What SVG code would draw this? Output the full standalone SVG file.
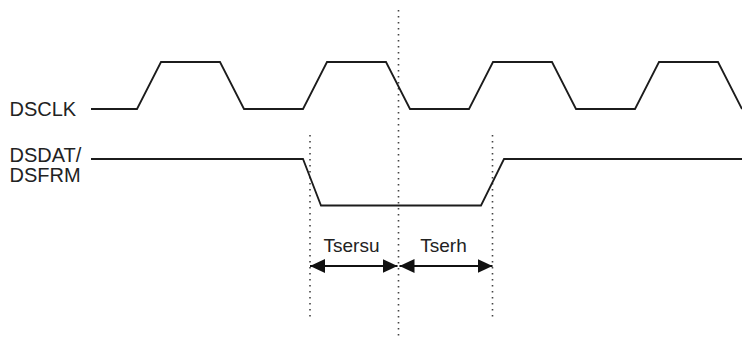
<svg xmlns="http://www.w3.org/2000/svg" width="742" height="339" viewBox="0 0 742 339">
<style>
.sig{fill:none;stroke:#1c1c1c;stroke-width:1.8;stroke-linejoin:miter}
.dot{fill:none;stroke:#444;stroke-width:1.6;stroke-dasharray:1.6 4.4}
.lbl{font-family:"Liberation Sans",Arial,sans-serif;font-size:20px;fill:#222}
.tlbl{font-family:"Liberation Sans",Arial,sans-serif;font-size:19px;fill:#222;text-anchor:middle}
.arr{fill:none;stroke:#111;stroke-width:1.8}
</style>
<defs>
<marker id="ah" markerUnits="userSpaceOnUse" markerWidth="16" markerHeight="16" viewBox="0 0 16 16" refX="15" refY="8" orient="auto-start-reverse">
<path d="M0,1 L15,8 L0,15 Z" fill="#111"/>
</marker>
</defs>
<rect width="742" height="339" fill="#fff"/>
<g id="guides">
<line class="dot" x1="310" y1="135" x2="310" y2="318"/>
<line class="dot" x1="398.5" y1="10" x2="398.5" y2="339"/>
<line class="dot" x1="492.5" y1="135" x2="492.5" y2="318"/>
</g>
<g id="dsclk">
<text class="lbl" x="9.5" y="116">DSCLK</text>
<path class="sig" d="M91,109 L137,109 L161,62 L220,62 L244,109 L303,109 L327,62 L386,62 L410,109 L469,109 L493,62 L552,62 L576,109 L635,109 L659,62 L718,62 L742,109"/>
</g>
<g id="dsdat">
<text class="lbl" x="9.5" y="162">DSDAT/</text>
<text class="lbl" x="9.5" y="182">DSFRM</text>
<path class="sig" d="M91,159 L303,159 L321,205.5 L481,205.5 L504,159 L742,159"/>
</g>
<g id="tsersu">
<text class="tlbl" x="351.5" y="252">Tsersu</text>
</g>
<g id="tserh">
<text class="tlbl" x="443.5" y="252">Tserh</text>
</g>
<g id="connectors">
<line class="arr" x1="310" y1="266" x2="397.5" y2="266" marker-start="url(#ah)" marker-end="url(#ah)"/>
<line class="arr" x1="399.5" y1="266" x2="492.5" y2="266" marker-start="url(#ah)" marker-end="url(#ah)"/>
</g>
</svg>
